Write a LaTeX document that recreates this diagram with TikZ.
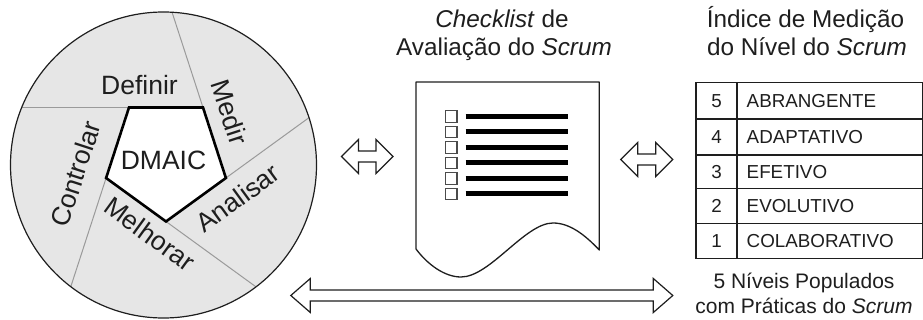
\documentclass[tikz,border=0pt]{standalone}
\usepackage{fontspec}
\setmainfont{Liberation Sans}
\usetikzlibrary{calc}

\definecolor{ringgray}{HTML}{E6E6E6}
\definecolor{divgray}{HTML}{9A9A9A}
\definecolor{inkdark}{HTML}{1E1E1E}

\tikzset{
  pics/fatarrow/.style 2 args={code={
    \draw[line width=1.2pt, draw=inkdark, fill=white, line join=miter]
      (-#1,0) -- ++(#2,-17) -- ++(0,11.5) -- (#1-#2,-5.5) -- ++(0,-11.5)
      -- (#1,0) -- ++(-#2,17) -- ++(0,-11.5) -- (-#1+#2,5.5) -- ++(0,11.5) -- cycle;
  }},
  bigtext/.style={font=\fontsize{26.5}{30}\selectfont, inner sep=0pt, text=inkdark},
  headtext/.style={font=\fontsize{24.3}{28}\selectfont, inner sep=0pt, text=inkdark},
  celltext/.style={font=\fontsize{18.8}{22}\selectfont, inner sep=0pt, text=inkdark},
  captext/.style={font=\fontsize{21}{24}\selectfont, inner sep=0pt, text=inkdark},
  tickbox/.style={draw=inkdark!80, line width=1.4pt, minimum size=11.5pt, inner sep=0pt},
  checkbar/.style={line width=5pt, draw=black},
  docline/.style={line width=1.3pt, draw=inkdark, line join=round},
  gridline/.style={line width=1.3pt, draw=inkdark},
}

\begin{document}
\begin{tikzpicture}[x=1pt,y=-1pt]
\useasboundingbox (0,0) rectangle (923,320);

% ---------- DMAIC wheel ----------
\coordinate (O) at (163.5,165);
\coordinate (P1) at (203,107.5);   % top right
\coordinate (P2) at (129,107.5);   % top left
\coordinate (P3) at (106.1,178);   % left
\coordinate (P4) at (166,221.5);   % bottom
\coordinate (P5) at (225.9,178);   % right

\fill[ringgray] (O) circle (153);
\begin{scope}
  \clip (O) circle (153);
  \draw[divgray, line width=1pt] (P2) -- ($(P1)!8!(P2)$);
  \draw[divgray, line width=1pt] (P3) -- ($(P2)!8!(P3)$);
  \draw[divgray, line width=1pt] (P4) -- ($(P3)!8!(P4)$);
  \draw[divgray, line width=1pt] (P5) -- ($(P4)!8!(P5)$);
  \draw[divgray, line width=1pt] (P1) -- ($(P5)!8!(P1)$);
\end{scope}
\draw[line width=2.6pt, fill=white, line join=miter] (P1) -- (P2) -- (P3) -- (P4) -- (P5) -- cycle;
\draw[line width=1.2pt, draw=inkdark] (O) circle (153);

\node[bigtext] (dmaic) at (163.5,160) {DMAIC};
\node[bigtext] (definir) at (139.5,85) {Definir};
\node[bigtext, rotate=-72] (medir) at (229.5,112) {Medir};
\node[bigtext, rotate=36] (analisar) at (237.5,198) {Analisar};
\node[bigtext, rotate=-36] (melhorar) at (150,234) {Melhorar};
\node[bigtext, rotate=72] (controlar) at (75.5,173.5) {Controlar};

% ---------- checklist sheet ----------
\node[headtext, anchor=base] (chkA) at (502,27.5) {\textit{Checklist} de};
\node[headtext, anchor=base] (chkB) at (504,56) {Avaliação do \textit{Scrum}};

\draw[docline] (416,82) -- (599.3,82) -- (599.3,250)
  .. controls (585,235) and (570,223) .. (553,223)
  .. controls (525,223) and (490,277) .. (461,277)
  .. controls (445,277) and (428,265) .. (416,249) -- cycle;

\foreach \k in {0,...,5} {
  \node[tickbox] (cb\k) at (451.3,116.5+15.5*\k) {};
  \draw[checkbar] (465.5,116.5+15.5*\k) -- (568.3,116.5+15.5*\k);
}

% ---------- level index ----------
\node[headtext, anchor=base] (idxA) at (805.5,27.5) {Índice de Medição};
\node[headtext, anchor=base] (idxB) at (807,56) {do Nível do \textit{Scrum}};

\draw[gridline] (696,82.3) rectangle (923,258.3);
\foreach \yy in {119,155,188.3,223.3} {
  \draw[gridline] (696,\yy) -- (923,\yy);
}
\draw[gridline] (737,82.3) -- (737,258.3);

\foreach \n/\lab/\yc in {5/ABRANGENTE/100.7, 4/ADAPTATIVO/137, 3/EFETIVO/171.7,
                         2/EVOLUTIVO/205.8, 1/COLABORATIVO/240.8} {
  \node[celltext, anchor=base] (num\n) at (716.5,\yc+6.7) {\n};
  \node[celltext, anchor=base west] (lvl\n) at (746.5,\yc+6.7) {\lab};
}

\node[captext, anchor=base] (capA) at (804,288) {5 Níveis Populados};
\node[captext, anchor=base] (capB) at (804,313) {com Práticas do \textit{Scrum}};

% ---------- double arrows ----------
\pic (arrowL) at (367.2,156.5) {fatarrow={25.8}{17}};
\pic (arrowR) at (646.7,159.5) {fatarrow={26}{17}};
\pic (arrowB) at (481.8,295.5) {fatarrow={191}{19.5}};
\end{tikzpicture}
\end{document}
